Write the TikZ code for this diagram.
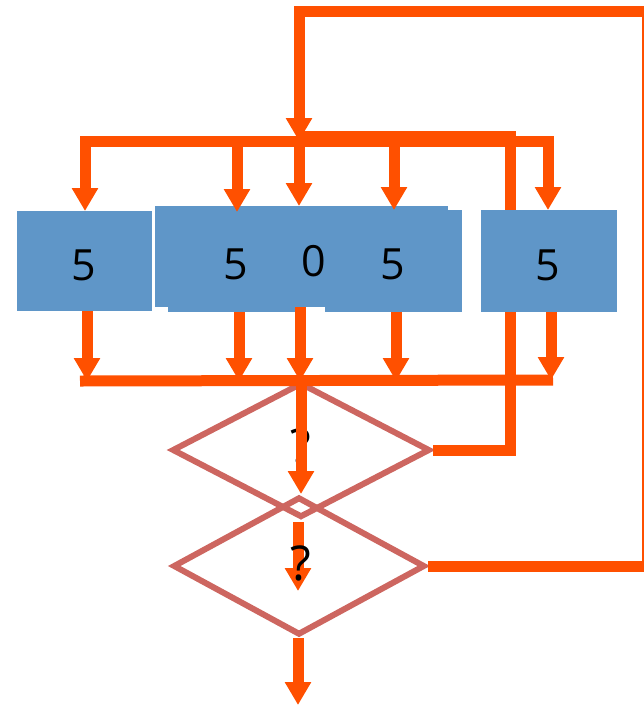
\documentclass[tikz,border=0pt]{standalone}
\usepackage{fontspec}
\setmainfont{Open Sans}
\usetikzlibrary{arrows.meta,shapes.geometric}
\definecolor{flow}{RGB}{255,80,0}
\definecolor{boxblue}{RGB}{95,150,200}
\definecolor{decision}{RGB}{205,102,96}
\begin{document}
\begin{tikzpicture}[x=1pt,y=-1pt,
  flowline/.style={draw=flow,line width=11pt,line cap=butt,line join=miter},
  arrowline/.style={flowline,-{Triangle[width=25pt,length=23pt]}},
  block/.style={rectangle,fill=boxblue,inner sep=0pt,outer sep=0pt},
  digit/.style={inner sep=0pt,font=\fontsize{43}{43}\selectfont},
  choice/.style={diamond,draw=decision,line width=6pt,inner sep=0pt},
  qmark/.style={inner sep=0pt,font=\fontsize{48}{48}\selectfont}]
\useasboundingbox (0,0) rectangle (644,705);

% bend points of the connectors
\coordinate (tbL) at (85,141);
\coordinate (tbR) at (548,141);
\coordinate (tbC) at (299,141);
\coordinate (tb2) at (237,141);
\coordinate (tb3) at (394,141);
\coordinate (rb) at (510,136);
\coordinate (rbL) at (299,136);
\coordinate (oc1) at (647.5,11);
\coordinate (oc2) at (299,11);
\coordinate (bbL) at (80,381);
\coordinate (bbR) at (553,380);
\coordinate (bb1) at (87,381);
\coordinate (bb2) at (239,381);
\coordinate (bb3) at (300,381);
\coordinate (bb4) at (396,381);
\coordinate (bb5) at (551,380);
\coordinate (in2a) at (298,522);
\coordinate (in2b) at (298,591);
\coordinate (exit) at (298,705);

% decisions
\node[choice,minimum width=258pt,minimum height=135pt] (d1) at (301,450) {};
\node[choice,minimum width=252pt,minimum height=138pt] (d2) at (299,566) {};

% return path from the first decision up to the top bus
\draw[flowline] (d1.east) -- (d1.east -| rb) -- (rb) -- (rbL);
% outer return path from the second decision
\draw[arrowline] (d2.east) -- (d2.east -| oc1) -- (oc1) -- (oc2) -- (tbC);

% blocks
\node[block,minimum width=135pt,minimum height=100pt] (b1) at (84.5,261) {};
\node[block,minimum width=293pt,minimum height=101pt] (r1) at (301.5,256.5) {};
\node[block,minimum width=137pt,minimum height=100pt] (r2) at (236.5,262) {};
\node[block,minimum width=137pt,minimum height=102pt] (r3) at (393.5,261) {};
\node[block,minimum width=136pt,minimum height=102pt] (b5) at (549,261) {};

\node[digit] (t1) at (84,265) {5};
\node[digit] (t2) at (236,264.5) {5};
\node[digit] (t0) at (313.5,261) {0};
\node[digit] (t3) at (393,264.5) {5};
\node[digit] (t5) at (547.5,265.5) {5};

% top bus feeding the blocks
\draw[arrowline] (tbR) -- (tbL) -- (b1.north -| tbL);
\draw[arrowline] (tbL) -- (tbR) -- (b5.north -| tbR);
\draw[arrowline] (tb2) -- (r2.north -| tb2);
\draw[arrowline] (tbC) -- (r1.north -| tbC);
\draw[arrowline] (tb3) -- (r3.north -| tb3);

% bottom bus collecting the blocks
\draw[flowline] (bbL) -- (bbR);
\draw[arrowline] (b1.south -| bb1) -- (bb1);
\draw[arrowline] (r2.south -| bb2) -- (bb2);
\draw[arrowline] (r1.south -| bb3) -- (bb3);
\draw[arrowline] (r3.south -| bb4) -- (bb4);
\draw[arrowline] (b5.south -| bb5) -- (bb5);

% decision labels and flow through them
\node[qmark] (q1) at (301,446) {?};
\draw[arrowline] (d1.north) -- (d1.north |- d2.north);
\draw[arrowline] (in2a) -- (in2b);
\node[qmark] (q2) at (301,563) {?};
\draw[arrowline] (d2.south -| exit) -- (exit);
\end{tikzpicture}
\end{document}
